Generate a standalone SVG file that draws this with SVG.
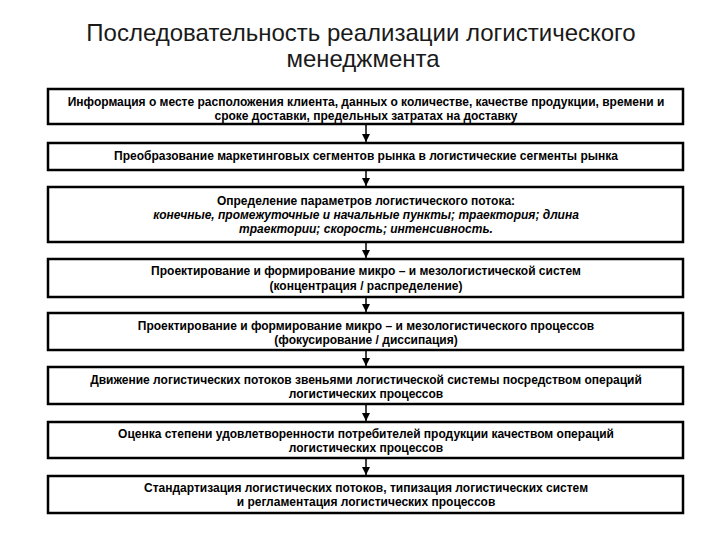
<svg xmlns="http://www.w3.org/2000/svg" width="720" height="540" viewBox="0 0 720 540">
<defs>
<style>
.bg{fill:#fff}
.box{fill:#fff;stroke:#000;stroke-width:2.5}
.title{font-family:"Liberation Sans",Arial,sans-serif;font-size:24px;fill:#1a1a1a;text-anchor:middle}
.t{font-family:"Liberation Sans",Arial,sans-serif;font-size:12px;font-weight:bold;fill:#000;text-anchor:middle}
.i{font-style:italic}
.conn{stroke:#000;stroke-width:1.5;fill:none}
</style>
<marker id="ah" markerWidth="8" markerHeight="8" viewBox="0 0 8 8" refX="8" refY="4" orient="auto" markerUnits="userSpaceOnUse">
<path d="M0,0 L8,4 L0,8 Z" fill="#000"/>
</marker>
</defs>
<rect class="bg" width="720" height="540"/>
<g id="title">
<text class="title" x="361" y="41">Последовательность реализации логистического</text>
<text class="title" x="363" y="67">менеджмента</text>
</g>
<g id="connectors">
<line class="conn" x1="366" y1="124" x2="366" y2="142" marker-end="url(#ah)"/>
<line class="conn" x1="366" y1="170" x2="366" y2="186" marker-end="url(#ah)"/>
<line class="conn" x1="366" y1="242" x2="366" y2="258" marker-end="url(#ah)"/>
<line class="conn" x1="366" y1="297" x2="366" y2="312" marker-end="url(#ah)"/>
<line class="conn" x1="366" y1="350" x2="366" y2="366" marker-end="url(#ah)"/>
<line class="conn" x1="366" y1="404" x2="366" y2="421" marker-end="url(#ah)"/>
<line class="conn" x1="366" y1="458" x2="366" y2="475" marker-end="url(#ah)"/>
</g>
<g id="n1">
<rect class="box" x="48" y="89" width="635" height="35"/>
<text class="t" x="366" y="106">Информация о месте расположения клиента, данных о количестве, качестве продукции, времени и</text>
<text class="t" x="366" y="120">сроке доставки, предельных затратах на доставку</text>
</g>
<g id="n2">
<rect class="box" x="48" y="143" width="635" height="27"/>
<text class="t" x="366" y="160">Преобразование маркетинговых сегментов рынка в логистические сегменты рынка</text>
</g>
<g id="n3">
<rect class="box" x="48" y="187" width="635" height="55"/>
<text class="t" x="366" y="205">Определение параметров логистического потока:</text>
<text class="t i" x="366" y="219">конечные, промежуточные и начальные пункты; траектория; длина</text>
<text class="t i" x="366" y="233">траектории; скорость; интенсивность.</text>
</g>
<g id="n4">
<rect class="box" x="48" y="259" width="635" height="38"/>
<text class="t" x="366" y="275">Проектирование и формирование микро – и мезологистической систем</text>
<text class="t" x="366" y="290">(концентрация / распределение)</text>
</g>
<g id="n5">
<rect class="box" x="48" y="313" width="635" height="37"/>
<text class="t" x="366" y="330">Проектирование и формирование микро – и мезологистического процессов</text>
<text class="t" x="366" y="344">(фокусирование / диссипация)</text>
</g>
<g id="n6">
<rect class="box" x="48" y="367" width="635" height="37"/>
<text class="t" x="366" y="384">Движение логистических потоков звеньями логистической системы посредством операций</text>
<text class="t" x="366" y="398">логистических процессов</text>
</g>
<g id="n7">
<rect class="box" x="48" y="422" width="635" height="36"/>
<text class="t" x="366" y="438">Оценка степени удовлетворенности потребителей продукции качеством операций</text>
<text class="t" x="366" y="452">логистических процессов</text>
</g>
<g id="n8">
<rect class="box" x="48" y="476" width="635" height="37"/>
<text class="t" x="366" y="492">Стандартизация логистических потоков, типизация логистических систем</text>
<text class="t" x="366" y="506">и регламентация логистических процессов</text>
</g>
</svg>
